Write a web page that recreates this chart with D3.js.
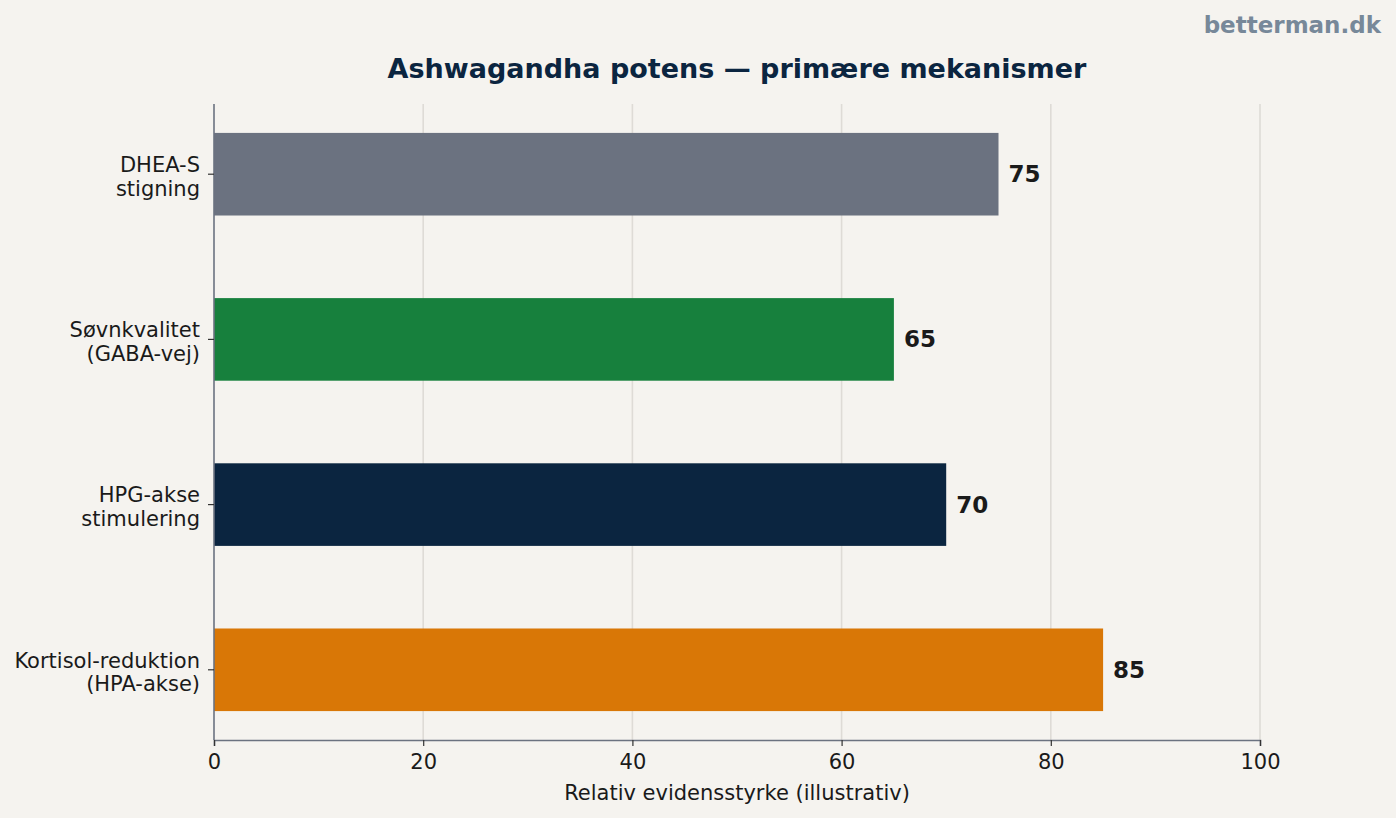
<!DOCTYPE html>
<html>
<head>
<meta charset="utf-8">
<script src="https://cdn.jsdelivr.net/npm/d3@7"></script>
<style>
  html, body { margin: 0; padding: 0; background: #f5f3ef; }
  svg { display: block; font-family: "DejaVu Sans", sans-serif; }
</style>
</head>
<body>
<svg id="chart" width="1396" height="818"></svg>
<script>
// data, top to bottom as drawn
const categories = [
  ['DHEA-S', 'stigning'],
  ['Søvnkvalitet', '(GABA-vej)'],
  ['HPG-akse', 'stimulering'],
  ['Kortisol-reduktion', '(HPA-akse)']
];
const values = [75, 65, 70, 85];
const barColors = ['#6b7280', '#17803d', '#0b2540', '#d97706'];
const xTicks = [0, 20, 40, 60, 80, 100];

const title = 'Ashwagandha potens — primære mekanismer';
const xLabel = 'Relativ evidensstyrke (illustrativ)';
const watermark = 'betterman.dk';

const svg = d3.select('#chart');
const W = 1396, H = 818;
const margin = { left: 214, right: 136, top: 104, bottom: 78 };
const plotW = W - margin.left - margin.right;
const plotH = H - margin.top - margin.bottom;

svg.append('rect').attr('width', W).attr('height', H).attr('fill', '#f5f3ef');

const g = svg.append('g').attr('transform', `translate(${margin.left},${margin.top})`);

const x = d3.scaleLinear().domain([0, 100]).range([0, plotW]);
// matplotlib-like barh: positions 0..3, bar height 0.5, 5% margins
const y = d3.scaleLinear().domain([-0.425, 3.425]).range([0, plotH]);
const barH = y(0.5) - y(0);

// grid
g.append('g').selectAll('line')
  .data(xTicks.slice(1))
  .join('line')
    .attr('x1', d => x(d)).attr('x2', d => x(d))
    .attr('y1', 0).attr('y2', plotH)
    .attr('stroke', '#dedbd6').attr('stroke-width', 1.6);

// bars
g.append('g').selectAll('rect')
  .data(values)
  .join('rect')
    .attr('x', x(0))
    .attr('y', (d, i) => y(i) - barH / 2)
    .attr('width', d => x(d) - x(0))
    .attr('height', barH)
    .attr('fill', (d, i) => barColors[i]);

// value labels
g.append('g').selectAll('text')
  .data(values)
  .join('text')
    .attr('x', d => x(d) + 10)
    .attr('y', (d, i) => y(i))
    .attr('dy', '0.35em')
    .attr('font-size', 23)
    .attr('font-weight', 'bold')
    .attr('fill', '#1a1a1a')
    .text(d => d);

// x axis
const xAxis = g.append('g')
  .attr('transform', `translate(0,${plotH})`)
  .call(d3.axisBottom(x).tickValues(xTicks).tickSize(6).tickPadding(8));
xAxis.select('.domain').attr('stroke', '#6b7280').attr('stroke-width', 1.6);
xAxis.selectAll('.tick line').attr('stroke', '#333').attr('stroke-width', 1.2);
xAxis.selectAll('.tick text')
  .attr('font-size', 21).attr('fill', '#1a1a1a')
  .attr('font-family', '"DejaVu Sans", sans-serif');

// y axis (left spine + ticks + two-line labels)
g.append('line')
  .attr('x1', 0).attr('x2', 0).attr('y1', 0).attr('y2', plotH)
  .attr('stroke', '#6b7280').attr('stroke-width', 1.6);

const yt = g.append('g').selectAll('g')
  .data(categories)
  .join('g')
    .attr('transform', (d, i) => `translate(0,${y(i)})`);
yt.append('line')
  .attr('x1', -6).attr('x2', 0)
  .attr('stroke', '#333').attr('stroke-width', 1.2);
yt.append('text')
  .attr('text-anchor', 'end')
  .attr('font-size', 21)
  .attr('fill', '#1a1a1a')
  .selectAll('tspan')
  .data(d => d)
  .join('tspan')
    .attr('x', -14)
    .attr('y', (d, i) => (i === 0 ? -9.5 : 14))
    .attr('dy', '0.35em')
    .text(d => d);

// axis label
svg.append('text')
  .attr('x', margin.left + plotW / 2)
  .attr('y', 800)
  .attr('text-anchor', 'middle')
  .attr('font-size', 21)
  .attr('fill', '#1a1a1a')
  .text(xLabel);

// title
svg.append('text')
  .attr('x', margin.left + plotW / 2)
  .attr('y', 78)
  .attr('text-anchor', 'middle')
  .attr('font-size', 27)
  .attr('font-weight', 'bold')
  .attr('fill', '#0b2540')
  .text(title);

// watermark
svg.append('text')
  .attr('x', 1381)
  .attr('y', 33)
  .attr('text-anchor', 'end')
  .attr('font-size', 23)
  .attr('font-weight', 'bold')
  .attr('fill', '#778899')
  .text(watermark);
</script>
</body>
</html>
